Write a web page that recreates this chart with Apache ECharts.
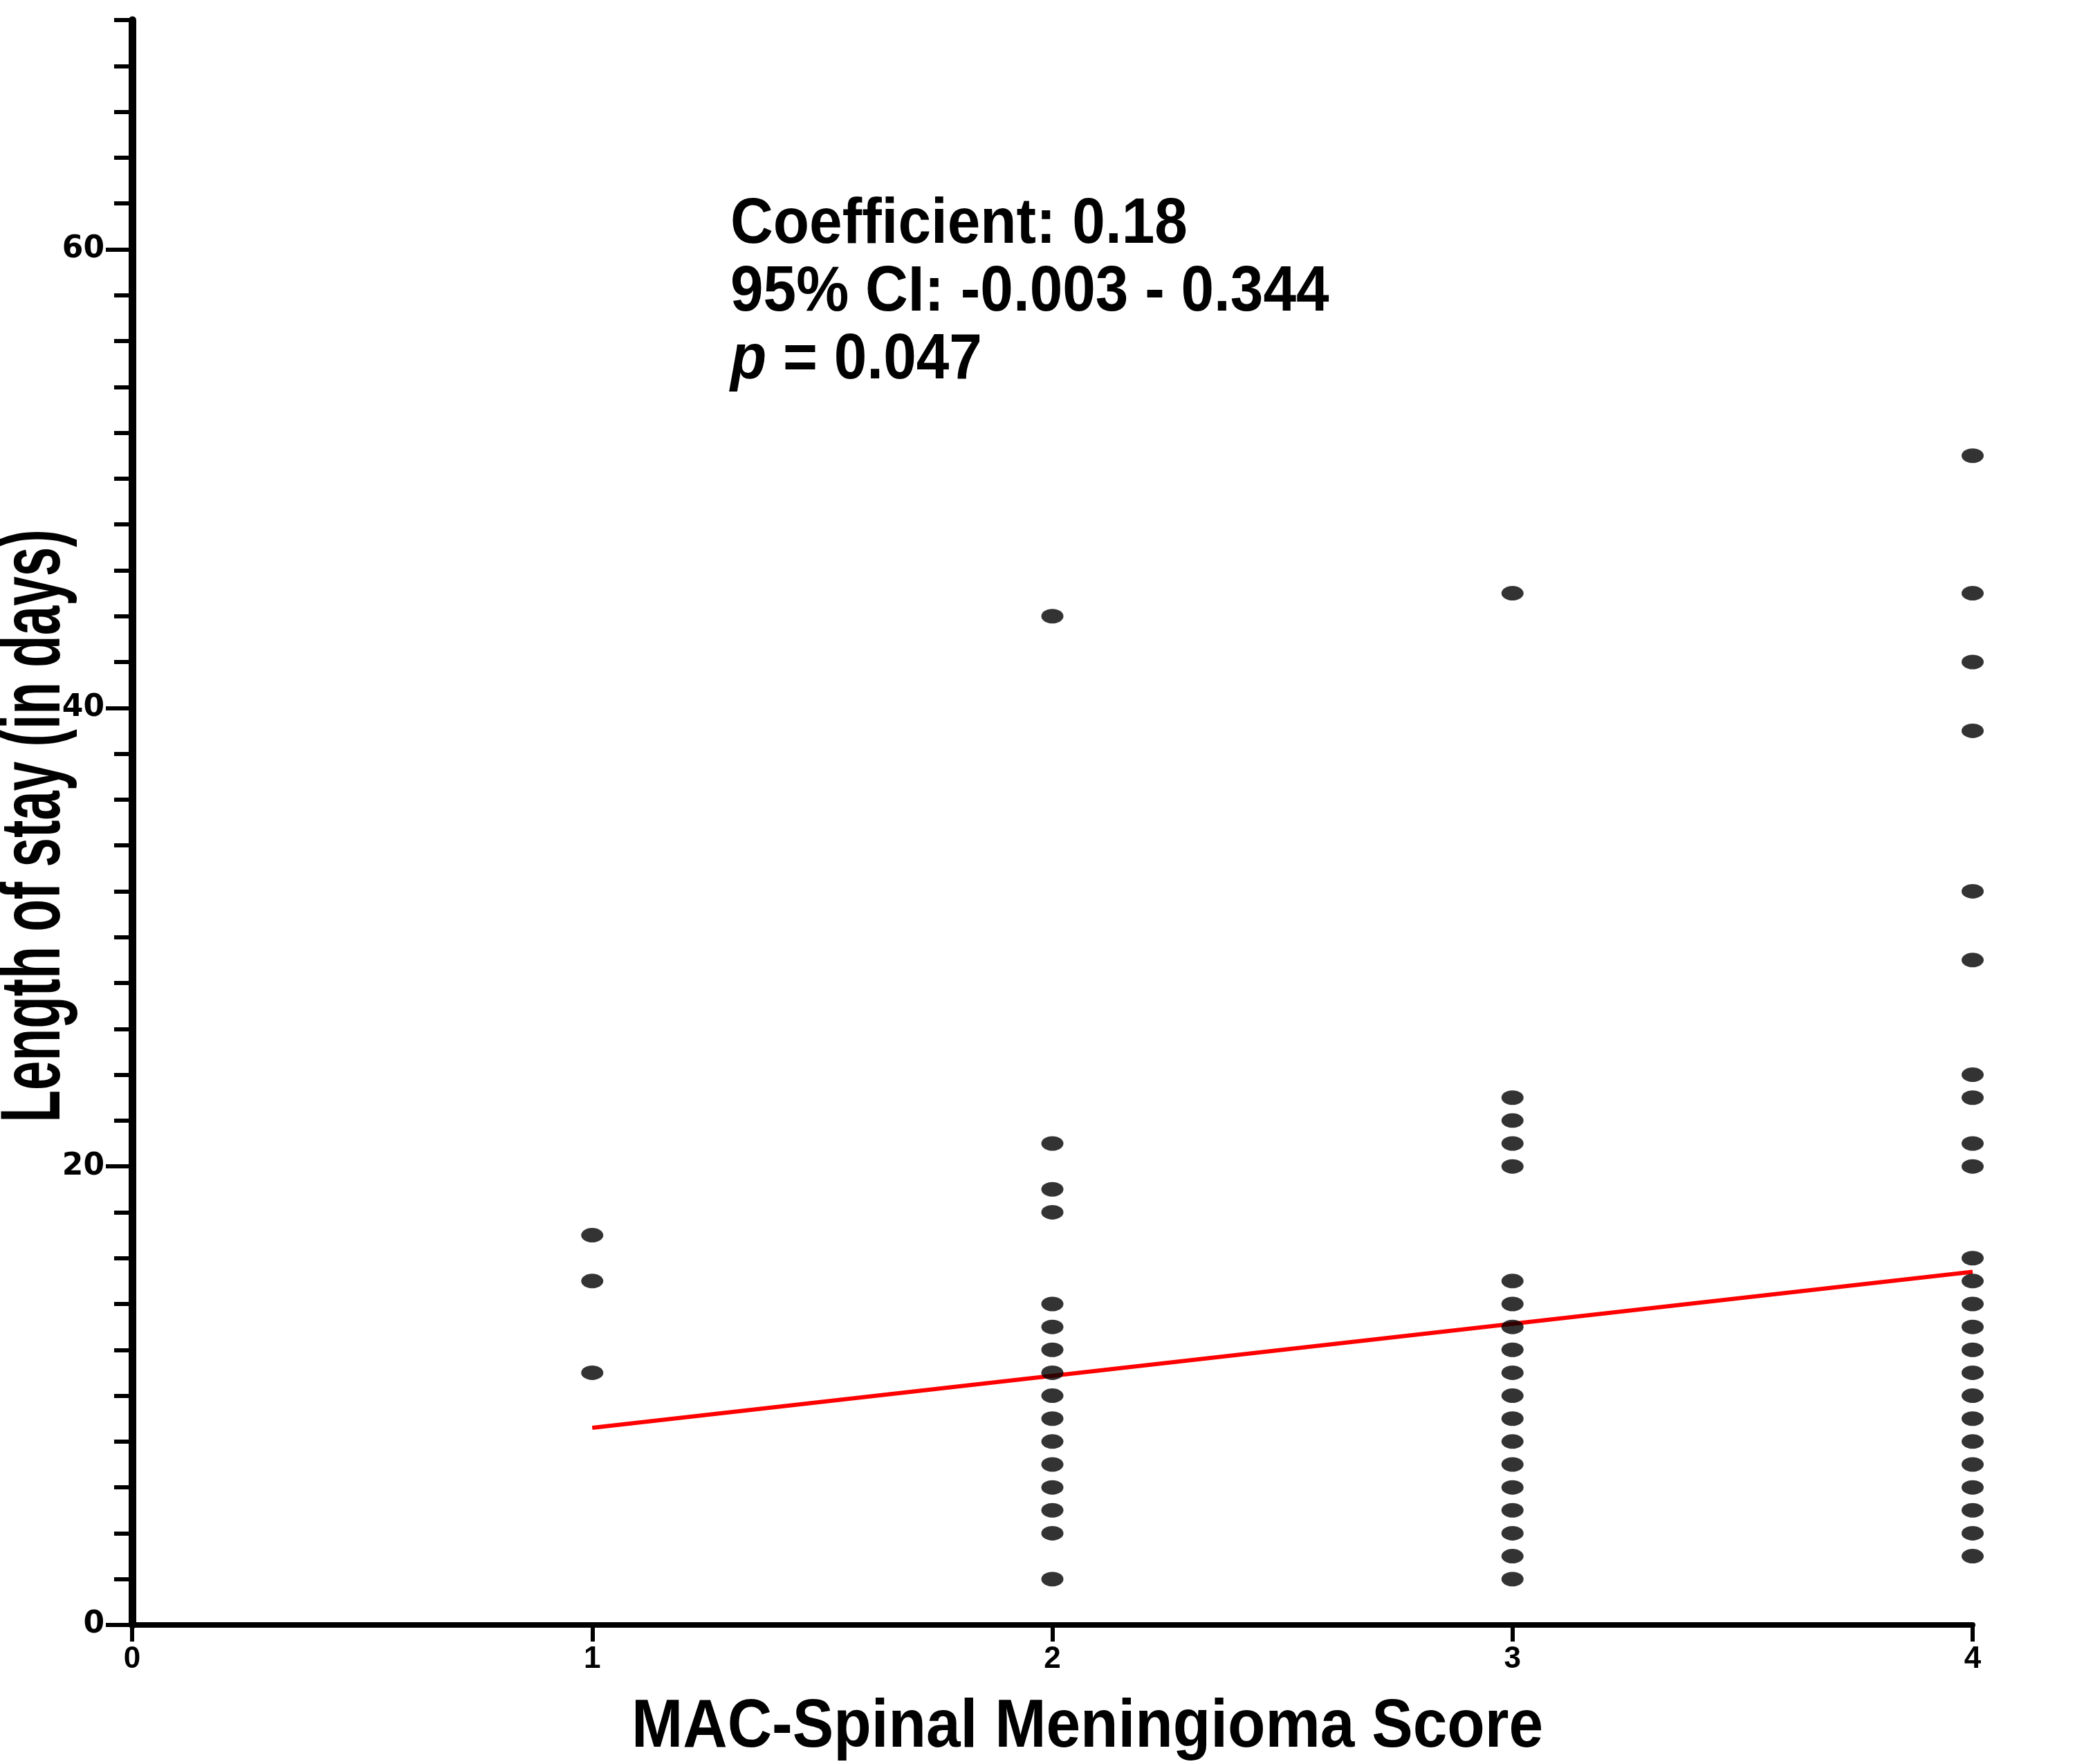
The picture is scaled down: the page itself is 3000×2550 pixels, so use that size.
<!DOCTYPE html>
<html>
<head>
<meta charset="utf-8">
<script src="https://cdn.jsdelivr.net/npm/echarts@6/dist/echarts.min.js"></script>
<style>
  html, body { margin: 0; padding: 0; background: #fff; }
  #chart { width: 3000px; height: 2550px; }
</style>
</head>
<body>
<div id="chart"></div>
<script>
// 每个评分的住院天数
const score1 = [17, 15, 11];
const score2 = [44, 21, 19, 18, 14, 13, 12, 11, 10, 9, 8, 7, 6, 5, 4, 2];
const score3 = [45, 23, 22, 21, 20, 15, 14, 13, 12, 11, 10, 9, 8, 7, 6, 5, 4, 3, 2];
const score4 = [51, 45, 42, 39, 32, 29, 24, 23, 21, 20, 16, 15, 14, 13, 12, 11, 10, 9, 8, 7, 6, 5, 4, 3];

// 回归线两端
const fitX = [1, 4];
const fitY = [8.6, 15.4];

const yLabels = [0, 20, 40, 60];
const statLines = ['Coefficient: 0.18', '95% CI: -0.003 - 0.344', '= 0.047'];

const points = [];
[score1, score2, score3, score4].forEach((arr, i) => {
    arr.forEach(v => points.push([i + 1, v]));
});

const statFont = 'bold 93px "Liberation Sans", Arial';

const chart = echarts.init(document.getElementById('chart'));

chart.setOption({
    backgroundColor: '#fff',
    animation: false,
    grid: { left: 191, right: 148, top: 29, bottom: 201, containLabel: false },
    xAxis: {
        type: 'value', min: 0, max: 4, interval: 1,
        axisLine: { lineStyle: { color: '#000', width: 8 } },
        axisTick: { length: 24, lineStyle: { color: '#000', width: 6 } },
        axisLabel: { color: '#000', fontFamily: 'Liberation Sans', fontWeight: 'bold', fontSize: 44, margin: 28 },
        splitLine: { show: false }
    },
    yAxis: [{
        type: 'value', min: 0, max: 70, interval: 2,
        axisLine: { show: true, lineStyle: { color: '#000', width: 11 } },
        axisTick: { length: 26, lineStyle: { color: '#000', width: 6 } },
        axisLabel: {
            color: '#000', fontFamily: 'DejaVu Sans', fontWeight: 'bold', fontSize: 44, margin: 40,
            formatter: v => yLabels.includes(v) ? String(v) : ''
        },
        splitLine: { show: false }
    }, {
        type: 'value', min: 0, max: 70, interval: 20, position: 'left',
        axisLine: { show: false },
        axisTick: { show: true, length: 38, customValues: yLabels, lineStyle: { color: '#000', width: 6 } },
        axisLabel: { show: false },
        splitLine: { show: false }
    }],
    series: [{
        type: 'line',
        data: fitX.map((x, i) => [x, fitY[i]]),
        symbol: 'none',
        lineStyle: { color: '#ff0000', width: 6 },
        z: 2
    }, {
        type: 'scatter',
        data: points,
        symbol: 'circle',
        symbolSize: [32, 21],
        itemStyle: { color: '#000' },
        z: 3
    }],
    graphic: [{
        type: 'text', x: 1056, y: 325, scaleX: 0.92,
        style: { text: statLines[0], font: statFont, fill: '#000', verticalAlign: 'middle' }
    }, {
        type: 'text', x: 1056, y: 423, scaleX: 0.92,
        style: { text: statLines[1], font: statFont, fill: '#000', verticalAlign: 'middle' }
    }, {
        type: 'text', x: 1056, y: 521, scaleX: 0.92,
        style: {
            text: '{i|p} ' + statLines[2],
            font: statFont, fill: '#000', verticalAlign: 'middle',
            rich: { i: { font: 'italic bold 93px "Liberation Sans", Arial', fill: '#000' } }
        }
    }, {
        type: 'text', x: 52, y: 1194, rotation: Math.PI / 2, scaleX: 0.626,
        style: {
            text: 'Length of stay (in days)', font: 'bold 122px "Liberation Sans", Arial',
            fill: '#000', align: 'center', verticalAlign: 'middle'
        }
    }, {
        type: 'text', x: 1572, y: 2498, scaleX: 0.91,
        style: {
            text: 'MAC-Spinal Meningioma Score', font: 'bold 98px "Liberation Sans", Arial',
            fill: '#000', align: 'center', verticalAlign: 'middle'
        }
    }]
});

window.addEventListener('resize', () => chart.resize());
</script>
</body>
</html>
